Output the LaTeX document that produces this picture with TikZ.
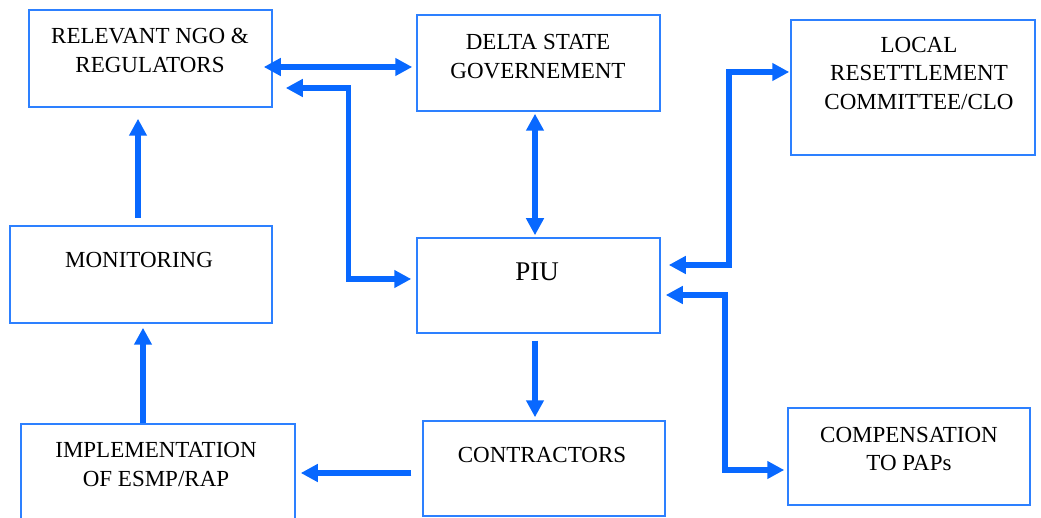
\documentclass[tikz,border=0pt]{standalone}
\usepackage{fontspec}
\setmainfont{Liberation Serif}
\usetikzlibrary{arrows.meta,calc}
\definecolor{boxblue}{RGB}{45,128,255}
\definecolor{arrowblue}{RGB}{8,104,255}
\begin{document}
\begin{tikzpicture}[x=1pt,y=-1pt,
  box/.style={draw=boxblue, line width=1.5pt, inner sep=0pt, fill=white},
  lbl/.style={font=\fontsize{23}{28.5}\selectfont, align=center, inner sep=0pt},
  arr/.style={draw=arrowblue, line width=5.5pt, -{Triangle[length=17pt,width=17pt]}},
  biarr/.style={draw=arrowblue, line width=5.5pt, {Triangle[length=17pt,width=17pt]}-{Triangle[length=17pt,width=17pt]}}]
\useasboundingbox (0,0) rectangle (1041,518);

% boxes
\node[box, minimum width=243pt, minimum height=97pt]  (ngo)  at (150.5,58.5) {};
\node[box, minimum width=243pt, minimum height=96pt]  (dg)   at (538.5,63)   {};
\node[box, minimum width=244pt, minimum height=135pt] (lrc)  at (913,87.5)   {};
\node[box, minimum width=262pt, minimum height=97pt]  (mon)  at (141,274.5)  {};
\node[box, minimum width=243pt, minimum height=95pt]  (piu)  at (538.5,285.5){};
\node[box, minimum width=274pt, minimum height=106pt] (imp)  at (158,477)    {};
\node[box, minimum width=242pt, minimum height=95pt]  (con)  at (544,468.5)  {};
\node[box, minimum width=242pt, minimum height=97pt]  (comp) at (909,456.5)  {};

% labels
\node[lbl] (ngo-t)  at (150,50.5)  {RELEVANT NGO \&\\REGULATORS};
\node[lbl] (dg-t)   at (538,56.5)  {DELTA STATE\\GOVERNEMENT};
\node[lbl] (lrc-t)  at (919,73.5)  {LOCAL\\RESETTLEMENT\\COMMITTEE/CLO};
\node[lbl] (mon-t)  at (139,260)   {MONITORING};
\node[lbl, font=\fontsize{27}{30}\selectfont] (piu-t) at (537,272) {PIU};
\node[lbl] (imp-t)  at (156,464.5) {IMPLEMENTATION\\OF ESMP/RAP};
\node[lbl] (con-t)  at (542,455)   {CONTRACTORS};
\node[lbl] (comp-t) at (909,449)   {COMPENSATION\\TO PAPs};

% connector end points
\coordinate (a1s) at ($(ngo.east)+(-9,8.5)$);
\coordinate (a2s) at ($(ngo.east)+(13,29.5)$);
\coordinate (a2e) at ($(piu.west)+(-5,-6.5)$);
\coordinate (a4s) at ($(piu.east)+(8,-20.5)$);
\coordinate (a4e) at ($(lrc.west)+(-1,-15.5)$);
\coordinate (a5s) at ($(piu.east)+(5,9.5)$);
\coordinate (a5e) at ($(comp.west)+(-3,13.5)$);

% connectors
\draw[biarr, shorten >=4pt] (a1s) -- (a1s -| dg.west);
\draw[biarr] (a2s) -| ($(a2s)!.5!(a2e)$) |- (a2e);
\draw[biarr] ($(dg.south)+(-3.5,2)$) -- ($(piu.north)+(-3.5,-2)$);
\draw[biarr] (a4s) -| ($(a4s)!.5!(a4e)$) |- (a4e);
\draw[biarr] (a5s) -| ($(a5s)!.5!(a5e)$) |- (a5e);
\draw[arr] ($(piu.south)+(-3.5,7)$) -- ($(con.north)+(-9,-3)$);
\draw[arr] ($(con.west)+(-11,4.5)$) -- ($(imp.east)+(5,-4)$);
\draw[arr] ($(imp.north)+(-15,0)$) -- ($(mon.south)+(2,4)$);
\draw[arr] ($(mon.north)+(-3,-7)$) -- ($(ngo.south)+(-12.5,11)$);
\end{tikzpicture}
\end{document}
